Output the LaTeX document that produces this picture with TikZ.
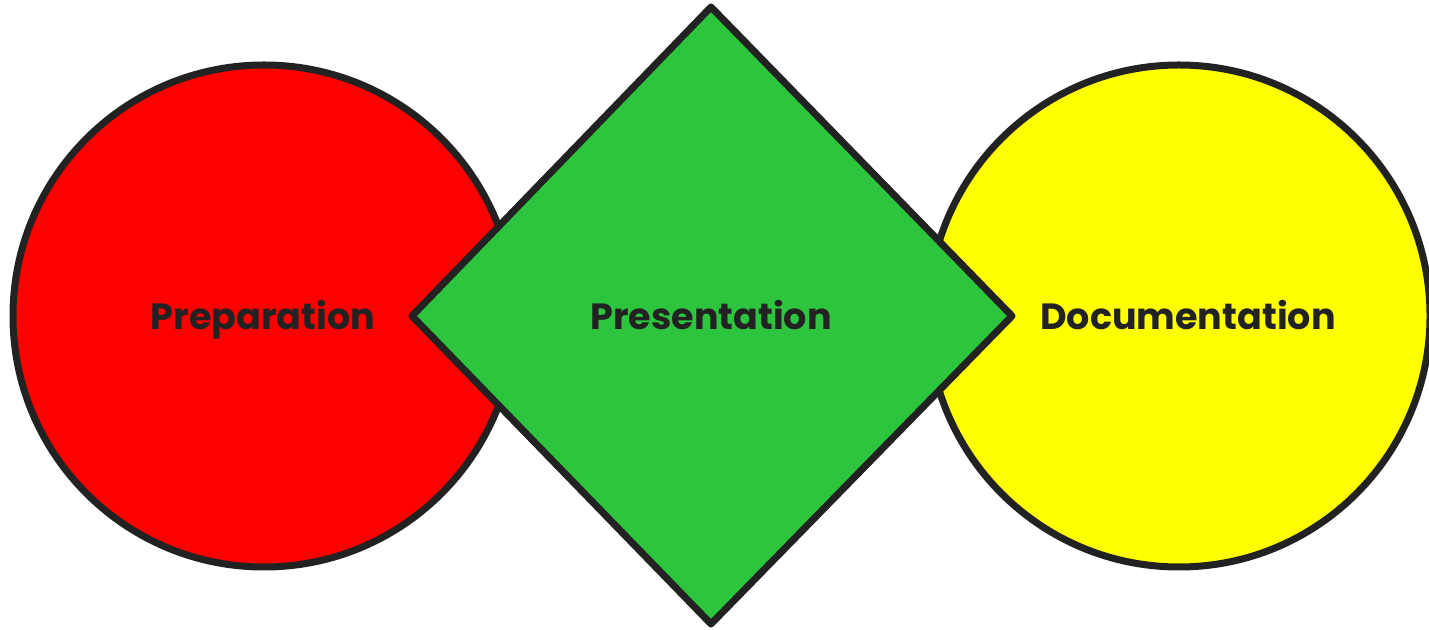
\documentclass[tikz,border=0pt]{standalone}
\usepackage{fontspec}
\setmainfont{Poppins}
\definecolor{strokec}{HTML}{222222}
\definecolor{greenc}{HTML}{2DC43E}
\definecolor{redc}{HTML}{FF0000}
\definecolor{yellowc}{HTML}{FFFF00}
\tikzset{
  shapeline/.style={draw=strokec, line width=7pt, line join=round},
  lbl/.style={text=strokec, font=\fontsize{36.5}{40}\selectfont\bfseries, inner sep=0pt, anchor=base},
}
\begin{document}
\begin{tikzpicture}[x=1pt,y=1pt]
\useasboundingbox (0,0) rectangle (1429,629);
\fill[white] (0,0) rectangle (1429,629);
\draw[shapeline, fill=redc] (264,313) circle (251);
\draw[shapeline, fill=yellowc] (1179,313) circle (251);
\draw[shapeline, fill=greenc] (711,622) coordinate (dt) -- (1012,313) coordinate (dr) -- (711,5) coordinate (db) -- (412,313) coordinate (dl) -- cycle;
\node[lbl] (prep) at (263,299) {Preparation};
\node[lbl] (pres) at (711,299) {Presentation};
\node[lbl] (doc) at (1188,299) {Documentation};
\end{tikzpicture}
\end{document}
